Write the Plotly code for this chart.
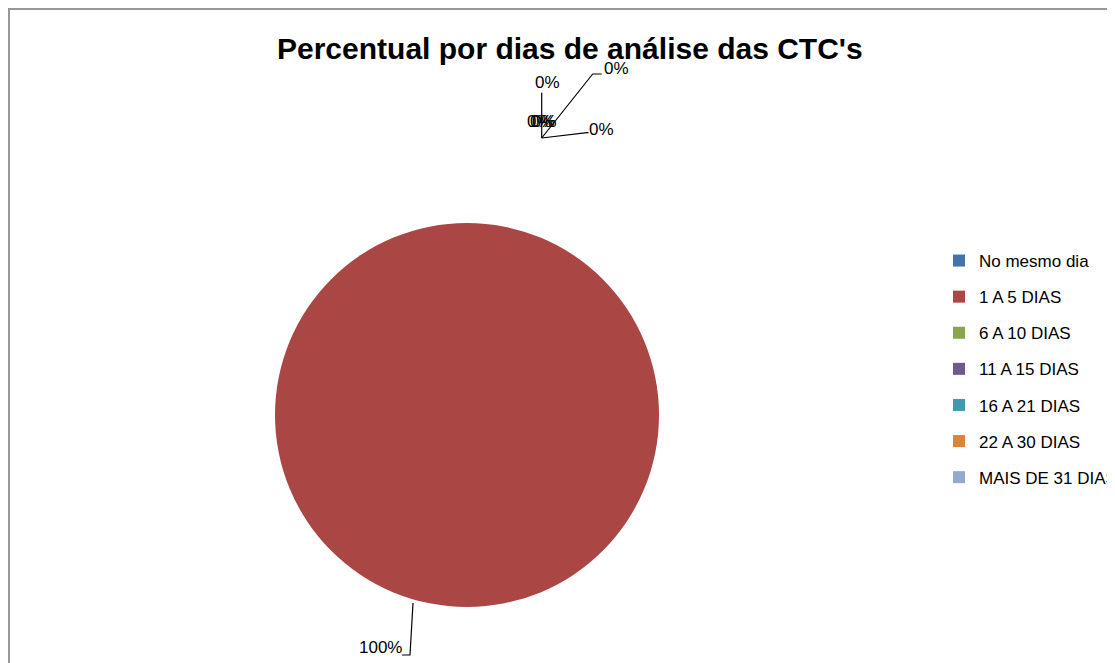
import plotly.graph_objects as go

W, H = 1115, 663
OFF = 8  # page body margin in the browser

# ---- data ----
categories = ["No mesmo dia", "1 A 5 DIAS", "6 A 10 DIAS", "11 A 15 DIAS",
              "16 A 21 DIAS", "22 A 30 DIAS", "MAIS DE 31 DIAS"]
values = [0, 100, 0, 0, 0, 0, 0]
colors = ["#4572A7", "#AA4643", "#89A54E", "#71588F", "#4198AF", "#DB843D", "#93A9CF"]
title_text = "Percentual por dias de análise das CTC's"

FONT = "Liberation Sans"


def px(x):
    return (x - OFF) / W


def py(y):
    return 1 - (y - OFF) / H


fig = go.Figure()

# pie
fig.add_trace(go.Pie(
    labels=categories, values=values, sort=False, direction="clockwise",
    marker=dict(colors=colors, line=dict(width=0)),
    textinfo="none", showlegend=False,
    domain=dict(x=[px(275), px(659)], y=[py(607), py(223)]),
))

# legend entries
for name, col in zip(categories, colors):
    fig.add_trace(go.Scatter(
        x=[None], y=[None], mode="markers", name=name, legendgroup=name,
        marker=dict(symbol="square", size=12, color=col),
    ))

# data label placement (Excel-like), by category index
total = sum(values)
label_pos = {
    0: ((547, 82), [(541.7, 92.7), (541.7, 138)]),
    1: ((380, 647), [(413, 603), (410, 655), (402, 655)]),
    2: ((616.5, 68.5), [(541.7, 138), (592.7, 74), (601.7, 74)]),
    3: ((601.5, 129), [(541.7, 138), (587, 132.7), (588.5, 132.7)]),
    4: ((539.5, 121), None),
    5: ((542, 121), None),
    6: ((544.5, 121), None),
}

annotations = []
shapes = []
for i, v in enumerate(values):
    (tx, ty), path = label_pos[i]
    annotations.append(dict(
        x=px(tx), y=py(ty), xref="paper", yref="paper", showarrow=False,
        text=f"{100 * v / total:.0f}%", font=dict(family=FONT, size=17, color="#000000"),
        xanchor="center", yanchor="middle",
    ))
    if path:
        d = "M " + " L ".join(f"{px(a)},{py(b)}" for a, b in path)
        shapes.append(dict(type="path", path=d, xref="paper", yref="paper",
                           line=dict(color="#000000", width=1.2)))

# chart border
shapes.append(dict(type="rect", xref="paper", yref="paper",
                   x0=px(9), y0=py(9), x1=px(W + 20), y1=py(H + 20),
                   line=dict(color="#989898", width=2)))

annotations.append(dict(
    x=px(570), y=py(48), xref="paper", yref="paper", showarrow=False,
    text=f"<b>{title_text}</b>", font=dict(family=FONT, size=30, color="#000000"),
    xanchor="center", yanchor="middle",
))

fig.update_layout(
    width=W, height=H, margin=dict(l=0, r=0, t=0, b=0),
    paper_bgcolor="white", plot_bgcolor="white",
    xaxis=dict(visible=False), yaxis=dict(visible=False),
    annotations=annotations, shapes=shapes,
    legend=dict(x=px(939), y=py(243), xanchor="left", yanchor="top",
                font=dict(family=FONT, size=17, color="#000000"),
                tracegroupgap=11, bgcolor="rgba(0,0,0,0)"),
    font=dict(family=FONT),
)

fig.write_html("out.html")
